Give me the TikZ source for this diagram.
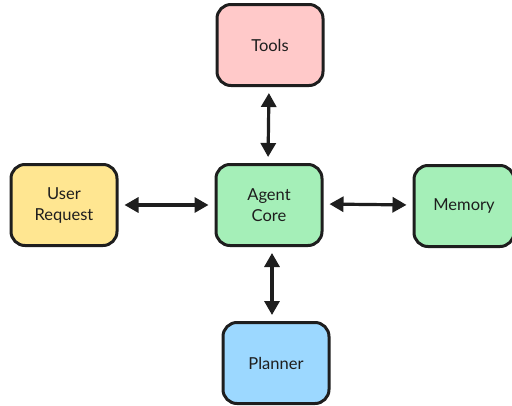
\documentclass[tikz,border=0pt]{standalone}
\usepackage{fontspec}
\setmainfont{Lato}
\usetikzlibrary{arrows.meta}
\definecolor{ink}{HTML}{1E1E1E}
\definecolor{redfill}{HTML}{FFC9C9}
\definecolor{yellowfill}{HTML}{FFE691}
\definecolor{greenfill}{HTML}{A5EFB8}
\definecolor{bluefill}{HTML}{9CD8FF}
\tikzset{
  box/.style={draw=ink, line width=3pt, rounded corners=14pt,
    minimum width=106pt, minimum height=81pt, align=center,
    text=ink, font=\fontsize{16.5}{21}\selectfont},
  link/.style={draw=ink, line width=3.2pt,
    {Triangle[length=14pt,width=15pt]}-{Triangle[length=14pt,width=15pt]},
    shorten <=6pt, shorten >=6pt}
}
\begin{document}
\begin{tikzpicture}[x=1pt,y=-1pt]
  \useasboundingbox (0,0) rectangle (512,405);
  \node[box, fill=redfill]    (tools)   at (270,45)  {Tools};
  \node[box, fill=yellowfill] (user)    at (64,205)  {User\\Request};
  \node[box, fill=greenfill]  (core)    at (269,205) {Agent\\Core};
  \node[box, fill=greenfill, minimum width=100pt] (memory) at (464,206) {Memory};
  \node[box, fill=bluefill]   (planner) at (276,363) {Planner};
  \draw[link] ([xshift=-1pt]tools.south) -- ([xshift=-1pt]core.north);
  \draw[link] (user.east) -- (core.west);
  \draw[link] ([yshift=1pt]core.east) -- ([yshift=1pt]memory.west);
  \draw[link] ([xshift=3pt]core.south) -- ([xshift=-4pt]planner.north);
\end{tikzpicture}
\end{document}
